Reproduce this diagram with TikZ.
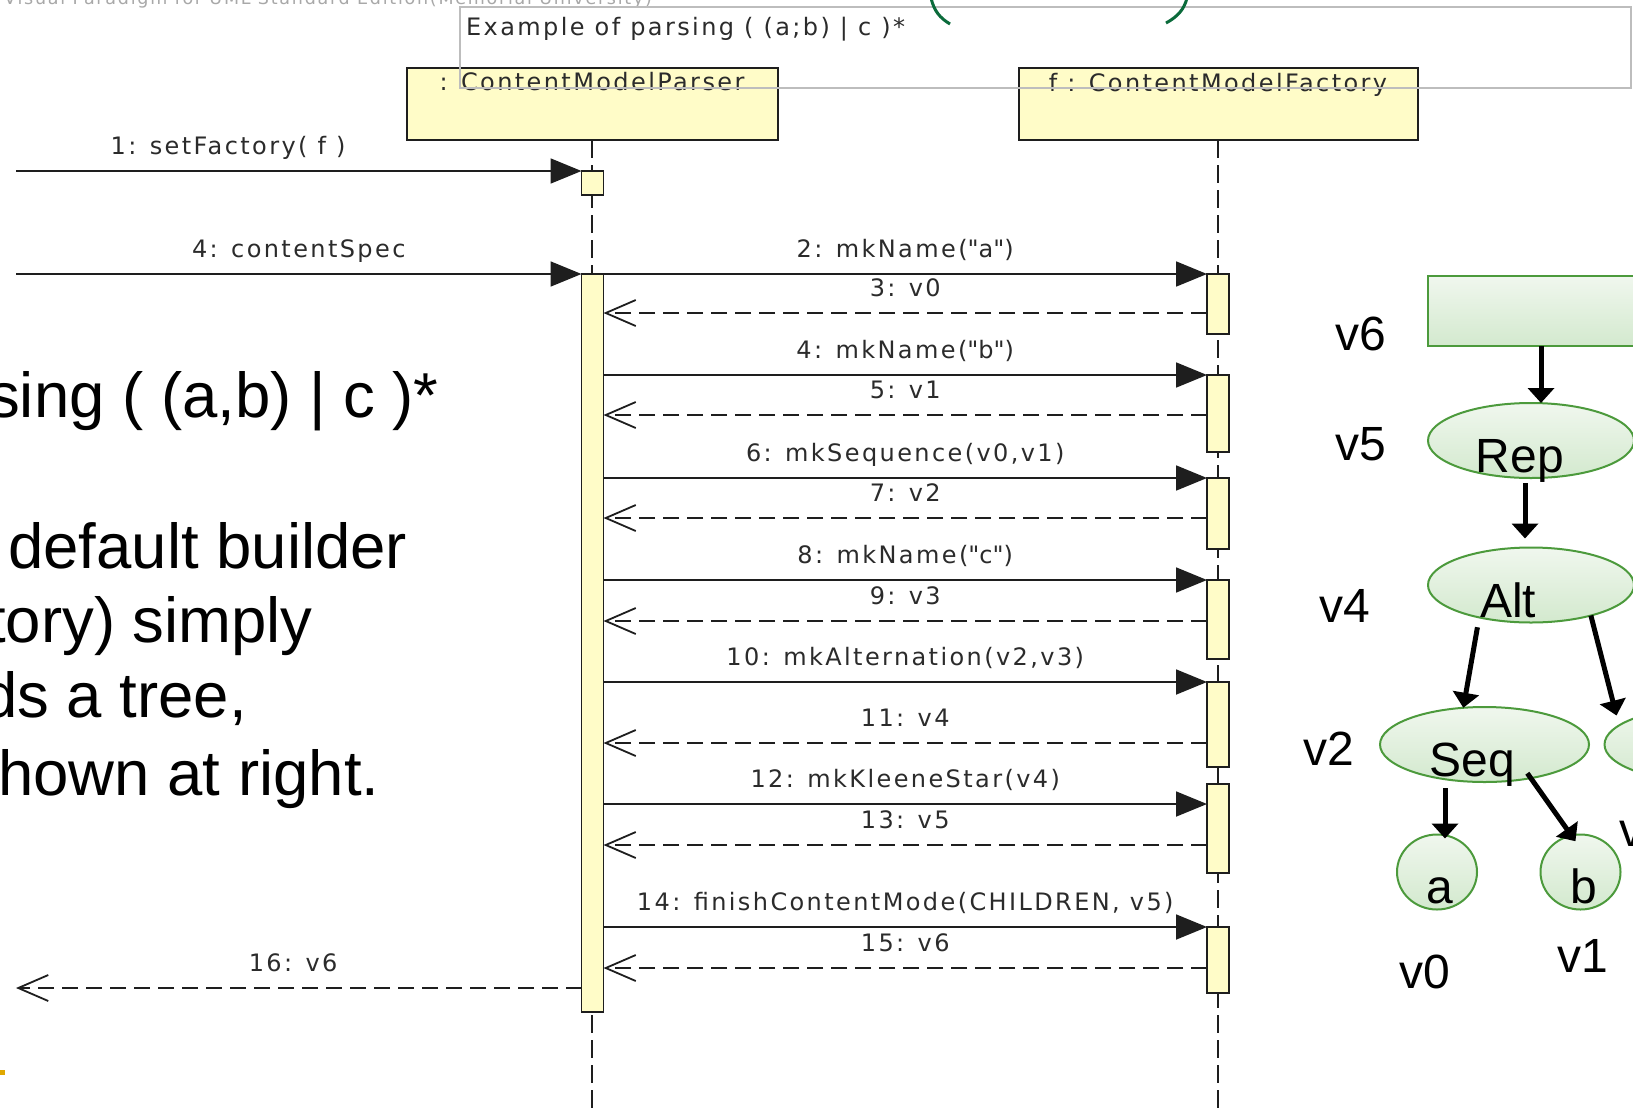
\documentclass[tikz,border=0pt]{standalone}
\usepackage{fontspec}
\setmainfont{Liberation Sans}
\newfontfamily\umlfont[LetterSpace=10]{DejaVu Sans}
\usetikzlibrary{arrows.meta,shapes.geometric}
\definecolor{UmlInk}{HTML}{1E1E1E}
\definecolor{UmlText}{HTML}{2B2B2B}
\definecolor{UmlPaper}{HTML}{FFFCC8}
\definecolor{UmlNote}{HTML}{BDBDBD}
\definecolor{UmlFaint}{HTML}{A8A8A8}
\definecolor{TreeLine}{HTML}{4C9A3C}
\definecolor{TreeTop}{HTML}{F0F7EE}
\definecolor{TreeBottom}{HTML}{D3E9CE}
\definecolor{CalloutGreen}{HTML}{0B6B3B}
\definecolor{SlideGold}{HTML}{E0A800}
\tikzset{
  umltext/.style={font=\umlfont\fontsize{24}{28}\selectfont, text=UmlText, inner sep=0pt},
  lifehead/.style={draw=UmlInk, line width=2pt, fill=UmlPaper, inner sep=0pt, outer sep=0pt, minimum height=72pt},
  lifeline/.style={draw=UmlInk, line width=1.8pt, dash pattern=on 18pt off 7pt},
  actbar/.style={draw=UmlInk, line width=1.8pt, fill=UmlPaper, inner sep=0pt, outer sep=0pt, minimum width=22pt},
  call/.style={draw=UmlInk, line width=1.8pt, -{Triangle[length=31pt,width=25pt]}},
  reply/.style={draw=UmlInk, line width=1.8pt, dash pattern=on 16pt off 8pt, -{Straight Barb[length=30pt,width=26pt]}},
  msg/.style={umltext, anchor=base, yshift=17pt},
  slidetext/.style={font=\fontsize{63.5}{75}\selectfont, anchor=base west, inner sep=0pt},
  treenode/.style={ellipse, draw=TreeLine, line width=2pt, top color=TreeTop, bottom color=TreeBottom, inner sep=0pt, outer sep=0pt, minimum height=75pt},
  treetext/.style={font=\fontsize{48}{56}\selectfont, anchor=base, inner sep=0pt},
  treearrow/.style={draw=black, line width=5pt, -{Triangle[length=15pt,width=26pt]}},
}

\begin{document}
\begin{tikzpicture}[x=1pt,y=-1pt]
  % Page in pixel units, origin top left
  \fill[white] (0,0) rectangle (1633,1112);
  \useasboundingbox (0,0) rectangle (1633,1112);
  \clip (0,0) rectangle (1633,1112);

  % Tool banner, cut by the top edge
  \node[umltext, font=\umlfont\fontsize{17.5}{20}\selectfont, text=UmlFaint, anchor=base west] (banner) at (4,4)
    {Visual Paradigm for UML Standard Edition(Memorial University)};

  % Lifeline heads
  \node[lifehead, minimum width=371pt] (parser) at (592,104) {};
  \node[lifehead, minimum width=399pt] (factory) at (1218,104) {};
  \node[umltext, anchor=base] (parsername) at ([yshift=-22pt]parser.north) {: ContentModelParser};
  \node[umltext, anchor=base] (factoryname) at ([yshift=-23pt]factory.north) {f : ContentModelFactory};

  % Note frame with its title, over the heads
  \node[umltext, anchor=base west] (title) at (466,35) {Example of parsing ( (a;b) | c )*};
  \draw[UmlNote, line width=1.5pt] (460,7) rectangle (1631,88);
  \draw[CalloutGreen, line width=3pt] (931,-2) .. controls (934,11) and (940,18) .. (950,24);
  \draw[CalloutGreen, line width=3pt] (1187,-2) .. controls (1184,10) and (1177,17) .. (1166,23);

  % Lifelines
  \coordinate (floor) at (0,1112);
  \draw[lifeline] (parser.south) -- (parser.south |- floor);
  \draw[lifeline] (factory.south) -- (factory.south |- floor);

  % Activation bars
  \node[actbar, minimum height=24pt] (sbox) at (592.5,183) {};
  \node[actbar, minimum height=738pt] (pbar) at (592.5,643) {};
  \foreach \barname/\ya/\yb in {fb1/274/334, fb2/375/452, fb3/478/549, fb4/580/659,
                                fb5/682/767, fb6/784/873, fb7/927/993}
    \node[actbar, minimum height={(\yb-\ya)*1pt}] (\barname) at (1218,{(\ya+\yb)/2}) {};

  % Messages coming in from the left
  \coordinate (outside) at (16,0);
  \draw[call] (outside |- sbox.north west) -- (sbox.north west) node[msg, pos=0.375] {1: setFactory( f )};
  \draw[call] (outside |- pbar.north west) -- (pbar.north west) node[msg, midway] {4: contentSpec};

  % Calls to the factory
  \foreach \barname/\yc/\txt in {
      fb1/274/{2: mkName(\textquotedbl a\textquotedbl)},
      fb2/375/{4: mkName(\textquotedbl b\textquotedbl)},
      fb3/478/{6: mkSequence(v0,v1)},
      fb4/580/{8: mkName(\textquotedbl c\textquotedbl)},
      fb5/682/{10: mkAlternation(v2,v3)},
      fb6/804/{12: mkKleeneStar(v4)},
      fb7/927/{14: finishContentMode(CHILDREN, v5)}} {
    \coordinate (m) at (0,\yc);
    \draw[call] (pbar.east |- m) -- (\barname.west |- m) node[msg, midway] {\txt};
  }

  % Replies
  \foreach \barname/\yc/\txt in {fb1/313/{3: v0}, fb2/415/{5: v1}, fb3/518/{7: v2},
                                 fb4/621/{9: v3}, fb5/743/{11: v4}, fb6/845/{13: v5},
                                 fb7/968/{15: v6}} {
    \coordinate (m) at (0,\yc);
    \draw[reply] (\barname.west |- m) -- (pbar.east |- m) node[msg, midway] {\txt};
  }
  \coordinate (r16) at (0,988);
  \draw[reply] (pbar.west |- r16) -- (outside |- r16) node[msg, pos=0.51] {16: v6};

  % Slide text, cut by the left edge
  \node[slidetext] (line1) at (-12,417) {sing ( (a,b) | c )*};
  \node[slidetext] (line2) at (8,568) {default builder};
  \node[slidetext] (line3) at (-12,642) {tory) simply};
  \node[slidetext] (line4) at (-18,717) {ds a tree,};
  \node[slidetext] (line5) at (-2,795) {hown at right.};
  \fill[SlideGold] (0,1070) rectangle (5,1075);

  % Tree built by the factory
  \node[draw=TreeLine, line width=2.6pt, top color=TreeTop, bottom color=TreeBottom,
        inner sep=0pt, outer sep=0pt, minimum width=226pt, minimum height=70pt] (v6box) at (1541,311) {};
  \node[treenode, minimum width=206pt] (rep) at (1531,440.5) {};
  \node[treenode, minimum width=206pt] (alt) at (1531,585) {};
  \node[treenode, minimum width=209pt] (seq) at (1484.5,744.5) {};
  \node[treenode, minimum width=209pt] (cnode) at (1709,744.5) {};
  \node[treenode, minimum width=80pt] (a) at (1437,872) {};
  \node[treenode, minimum width=80pt] (b) at (1580.5,872) {};
  \node[treetext] (reptext) at (1520,472) {Rep};
  \node[treetext] (alttext) at (1508,617) {Alt};
  \node[treetext] (seqtext) at (1472,776) {Seq};
  \node[treetext] (atext) at (1439.5,903) {a};
  \node[treetext] (btext) at (1584,903) {b};

  % Value names
  \node[treetext] (v6label) at (1361,350) {v6};
  \node[treetext] (v5label) at (1361,460) {v5};
  \node[treetext] (v4label) at (1345,622) {v4};
  \node[treetext] (v2label) at (1329,765) {v2};
  \node[treetext] (v0label) at (1425,988) {v0};
  \node[treetext] (v1label) at (1583,972) {v1};
  \node[treetext, anchor=base west] (v3label) at (1619,846) {v3};

  % Tree edges
  \draw[treearrow] (v6box.south) -- (v6box.south |- rep.north);
  \draw[treearrow, shorten <=5pt, shorten >=9pt] ([xshift=-6pt]rep.south) -- ([xshift=-6pt]alt.north);
  \draw[treearrow, shorten <=10pt] (alt.212) -- (seq.120);
  \draw[treearrow] (alt.-27) -- ([shift={(12,-29)}]cnode.west);
  \draw[treearrow, shorten <=6pt, shorten >=-4pt] ([xshift=8pt]a.north |- seq.south) -- ([xshift=8pt]a.north);
  \draw[treearrow, shorten <=-6pt, shorten >=-7pt] (seq.-36) -- (b.104);
\end{tikzpicture}
\end{document}
